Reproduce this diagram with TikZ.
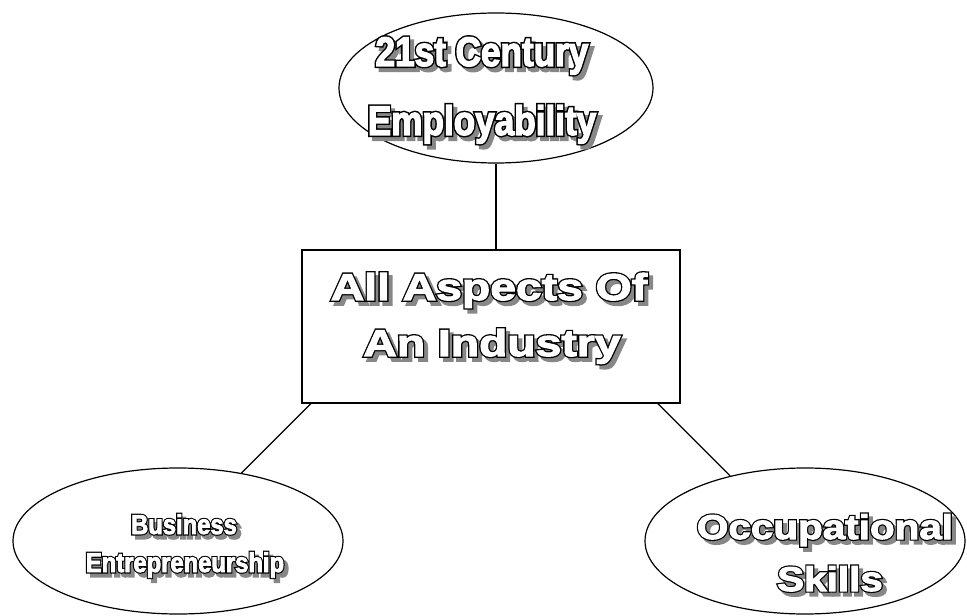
\documentclass[tikz,border=0pt]{standalone}
\usepackage{fontspec}
\usetikzlibrary{shapes.geometric,calc}
% white letter faces and their black rims
\newfontfamily\wideart{Liberation Sans Bold}[FakeStretch=1.24,FakeBold=3]
\newfontfamily\widerim{Liberation Sans Bold}[FakeStretch=1.24,FakeBold=10]
\newfontfamily\roundart{Liberation Sans Bold}[FakeStretch=1.18,FakeBold=3]
\newfontfamily\roundrim{Liberation Sans Bold}[FakeStretch=1.18,FakeBold=10]
\newfontfamily\narrowart{Liberation Sans Bold}[FakeStretch=0.85,FakeBold=3]
\newfontfamily\narrowrim{Liberation Sans Bold}[FakeStretch=0.85,FakeBold=10]
\newfontfamily\slimart{Liberation Sans Bold}[FakeStretch=0.87,FakeBold=3]
\newfontfamily\slimrim{Liberation Sans Bold}[FakeStretch=0.87,FakeBold=11]
\definecolor{shadowgray}{gray}{0.53}
\newcommand{\artword}[2]{\rlap{\kern3pt\raisebox{-3pt}{#1\textcolor{shadowgray}{#2}}}\rlap{#1\textcolor{black}{#2}}\textcolor{white}{#2}}
\tikzstyle{bubble}=[draw,shape=ellipse,inner sep=0pt,line width=0.9pt]
\tikzstyle{panel}=[draw,shape=rectangle,inner sep=0pt,line width=0.9pt]
\tikzstyle{art}=[anchor=base,inner sep=0pt]
\tikzstyle{link}=[line width=0.9pt]

\begin{document}
\begin{tikzpicture}[x=0.75pt,y=-0.75pt]
\useasboundingbox (0,0) rectangle (967,616);
\node[bubble,minimum width=235.5pt,minimum height=112.5pt] (Top) at (496,88) {};
\node[panel,minimum width=283.5pt,minimum height=114.75pt] (Box) at (491,326.5) {};
\node[bubble,minimum width=247.5pt,minimum height=109.5pt] (Left) at (178,541) {};
\node[bubble,minimum width=240pt,minimum height=109.5pt] (Right) at (805,541) {};
% word art labels
\node[art,font=\narrowart\fontsize{31}{31}\selectfont] (TopA) at (482,66) {\artword{\narrowrim}{21st Century}};
\node[art,font=\narrowart\fontsize{31}{31}\selectfont] (TopB) at (482,135) {\artword{\narrowrim}{Employability}};
\node[art,font=\wideart\fontsize{28}{28}\selectfont] (BoxA) at (489,300) {\artword{\widerim}{All Aspects Of}};
\node[art,font=\wideart\fontsize{28}{28}\selectfont] (BoxB) at (492,356) {\artword{\widerim}{An Industry}};
\node[art,font=\slimart\fontsize{20.5}{20.5}\selectfont] (LeftA) at (184,534) {\artword{\slimrim}{Business}};
\node[art,font=\slimart\fontsize{20.5}{20.5}\selectfont] (LeftB) at (185,572) {\artword{\slimrim}{Entrepreneurship}};
\node[art,font=\roundart\fontsize{25.7}{25.7}\selectfont] (RightA) at (825,539) {\artword{\roundrim}{Occupational}};
\node[art,font=\roundart\fontsize{25.7}{25.7}\selectfont] (RightB) at (830,591) {\artword{\roundrim}{Skills}};
% connectors
\draw[link] (Top.south) -- (Top.south |- Box.north);
\draw[link] ($(Box.south west)!0.025!(Box.south east)$) -- (Left.47);
\draw[link] ($(Box.south east)!0.06!(Box.south west)$) -- (Right.139);
\end{tikzpicture}
\end{document}
